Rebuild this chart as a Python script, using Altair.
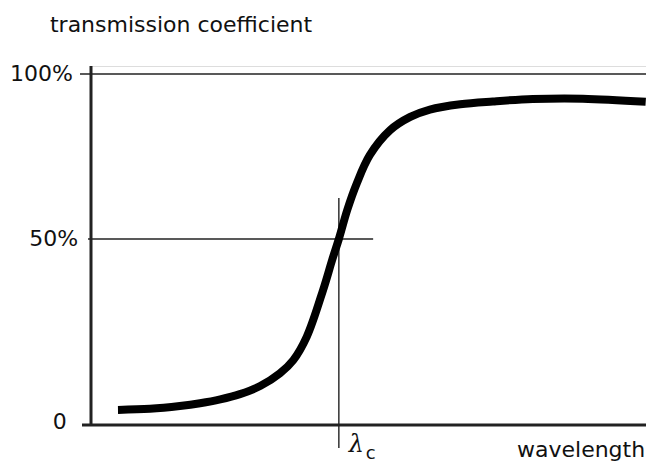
import altair as alt
import pandas as pd

# Curve (wavelength in arbitrary units 0-100, transmission in %-scale units)
wavelength = [4.8, 10.5, 15.8, 19.4, 23.0, 26.5, 30.1, 33.6, 36.0, 38.4, 41.3, 42.9, 44.1,
              45.6, 47.3, 49.6, 53.2, 56.8, 60.3, 65.7, 71.5, 78.6, 87.5, 98.7]
transmission = [4.3, 4.6, 5.4, 6.2, 7.3, 8.8, 11.1, 14.7, 18.5, 25.2, 38.5, 47.0, 53.0,
                61.3, 68.9, 76.9, 84.0, 87.8, 89.9, 91.4, 92.2, 92.9, 93.0, 92.1]

X_MAX = 98.75  # right edge of the drawing

# Guide lines: start x, end x, start y, end y, width
rule_x = [0, -1.6, -1.96, -0.53, 44.1]
rule_x2 = [0, X_MAX, X_MAX, 50.2, 44.1]
rule_y = [0, 0, 100, 53, 64.7]
rule_y2 = [102.3, 0, 100, 53, -6.55]
rule_w = [3, 3, 1.4, 1.4, 1.4]

# Tick labels
tick_labels = ["100%", "50%", "0"]
tick_label_x = [-3.2, -2.3, -4.3]
tick_label_y = [100, 53, 0.8]

curve = pd.DataFrame({"wl": wavelength, "tc": transmission})
rules = pd.DataFrame({"x": rule_x, "x2": rule_x2, "y": rule_y, "y2": rule_y2, "w": rule_w})
ticks = pd.DataFrame({"x": tick_label_x, "y": tick_label_y, "t": tick_labels})

xs = alt.Scale(domain=[0, X_MAX], nice=False, zero=False)
ys = alt.Scale(domain=[0, 102.3], nice=False, zero=False)

base_x = lambda f: alt.X(f, type="quantitative", scale=xs, axis=None)
base_y = lambda f: alt.Y(f, type="quantitative", scale=ys, axis=None)

rule_layer = alt.Chart(rules).mark_rule(color="#222222").encode(
    x=base_x("x"), x2="x2", y=base_y("y"), y2="y2",
    strokeWidth=alt.StrokeWidth("w:Q", scale=None),
)

curve_layer = alt.Chart(curve).mark_line(
    color="black", strokeWidth=8, interpolate="catmull-rom", strokeCap="butt"
).encode(x=base_x("wl"), y=base_y("tc"))

tick_layer = alt.Chart(ticks).mark_text(
    align="right", baseline="middle", font="DejaVu Sans", fontSize=22, color="#111111"
).encode(x=base_x("x"), y=base_y("y"), text="t:N")

title_df = pd.DataFrame({"x": [-7.3], "y": [112], "t": ["transmission coefficient"]})
title_layer = alt.Chart(title_df).mark_text(
    align="left", baseline="alphabetic", font="DejaVu Sans", fontSize=22, color="#111111"
).encode(x=base_x("x"), y=base_y("y"), text="t:N")

wl_df = pd.DataFrame({"x": [98.6], "y": [-9.2], "t": ["wavelength"]})
wl_layer = alt.Chart(wl_df).mark_text(
    align="right", baseline="alphabetic", font="DejaVu Sans", fontSize=22, color="#111111"
).encode(x=base_x("x"), y=base_y("y"), text="t:N")

lam_df = pd.DataFrame({"x": [47.2], "y": [-7.8], "t": ["λ"]})
lam_layer = alt.Chart(lam_df).mark_text(
    align="center", baseline="alphabetic", font="DejaVu Serif", fontStyle="italic", fontSize=24, color="#111111"
).encode(x=base_x("x"), y=base_y("y"), text="t:N")

c_df = pd.DataFrame({"x": [48.9], "y": [-9.6], "t": ["c"]})
c_layer = alt.Chart(c_df).mark_text(
    align="left", baseline="alphabetic", font="DejaVu Sans", fontSize=18, color="#111111"
).encode(x=base_x("x"), y=base_y("y"), text="t:N")

chart = alt.layer(
    rule_layer, curve_layer, tick_layer, title_layer, wl_layer, lam_layer, c_layer
).properties(
    width=555, height=359,
    autosize=alt.AutoSizeParams(type="none"),
    padding={"left": 83, "top": 58, "right": 0, "bottom": 42},
).configure_view(stroke=None).configure(background="white")

chart.save("out.html", embed_options={"renderer": "svg", "actions": False})
